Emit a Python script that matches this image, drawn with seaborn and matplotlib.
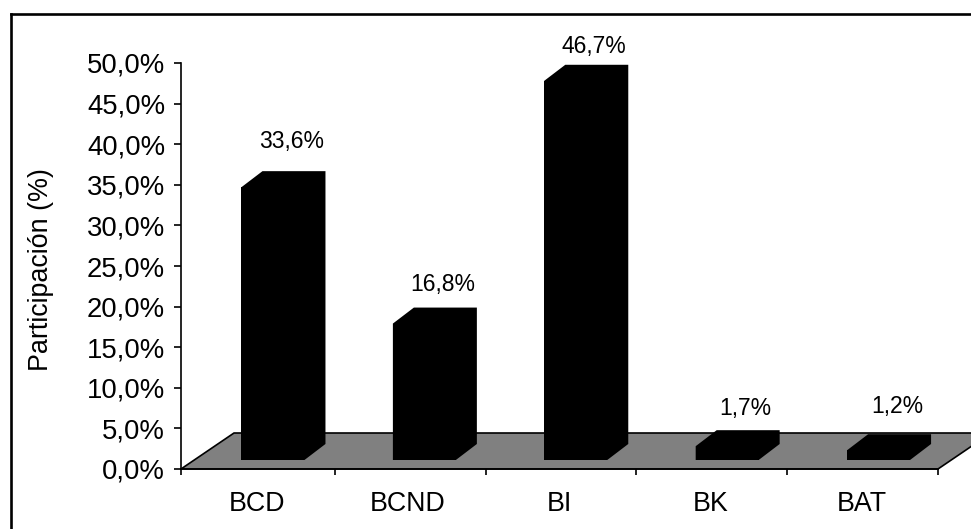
import matplotlib
matplotlib.use("Agg")
import matplotlib.pyplot as plt
import seaborn as sns
import pandas as pd
from matplotlib.lines import Line2D
from matplotlib.patches import Polygon
from matplotlib.ticker import FixedLocator, FuncFormatter

categories = ["BCD", "BCND", "BI", "BK", "BAT"]
values = [33.6, 16.8, 46.7, 1.7, 1.2]
y_ticks = [0, 5, 10, 15, 20, 25, 30, 35, 40, 45, 50]

W, H = 971, 529
AX_L, AX_R, AX_T, AX_B = 181, 938, 63, 469

sns.set_theme(style="white")
plt.rcParams["font.family"] = ["Liberation Sans", "DejaVu Sans"]

fig = plt.figure(figsize=(W / 100, H / 100), dpi=100, facecolor="white")
ax = fig.add_axes([AX_L / W, 1 - AX_B / H, (AX_R - AX_L) / W, (AX_B - AX_T) / H])
ax.patch.set_alpha(0)

df = pd.DataFrame({"banco": categories, "participacion": values})
BASE = 1.11  # bars stand slightly inside the floor
sns.barplot(data=df, x="banco", y="participacion", color="black", saturation=1,
            width=0.416, bottom=BASE, ax=ax, zorder=3, linewidth=0)
ax.set_xlim(-0.5, 4.5)
ax.set_ylim(0, 50)

px_x = 5 / (AX_R - AX_L)      # category units per pixel
px_y = 50 / (AX_B - AX_T)     # percent per pixel

# floor of the pseudo-3D plot
fx, fy = 53 * px_x, 36 * px_y
ax.add_patch(Polygon([(-0.5, 0), (4.5, 0), (4.5 + fx, fy), (-0.5 + fx, fy)],
                     closed=True, facecolor="#808080", edgecolor="black",
                     linewidth=1.2, clip_on=False, zorder=1))

# shift bars to the front of the floor and add their depth faces
dx, dy = 21 * px_x, 16 * px_y
shift = 0.091 + 2.5 * px_x
label_lift = [46, 39, 34, 38, 44]  # pixels above the bar's front edge
for bar, v, lift in zip(ax.patches[: len(values)], values, label_lift):
    bar.set_x(bar.get_x() + shift)
    x0, x1 = bar.get_x(), bar.get_x() + bar.get_width()
    y0, y1 = BASE, BASE + v
    ax.add_patch(Polygon([(x0, y0), (x0, y1), (x0 + dx, y1 + dy), (x1 + dx, y1 + dy),
                          (x1 + dx, y0 + dy), (x1, y0)],
                         closed=True, facecolor="black", edgecolor="none",
                         clip_on=False, zorder=3))
    ax.text(x0 + 50 * px_x, y1 + lift * px_y, f"{v:.1f}%".replace(".", ","),
            ha="center", va="center", fontsize=16.5, color="black", zorder=5)

# axes
ax.set_xlabel("")
ax.set_ylabel("Participación (%)", fontsize=19.4, color="black")
ax.yaxis.set_label_coords((54 - AX_L) / (AX_R - AX_L), (AX_B - 270) / (AX_B - AX_T))
ax.set_yticks(y_ticks)
ax.yaxis.set_major_formatter(FuncFormatter(lambda v, _: f"{v:.1f}%".replace(".", ",")))
ax.tick_params(axis="y", which="major", left=True, length=5.4, width=1.2,
               color="black", labelsize=19.8, labelcolor="black", pad=6)
# boundary ticks sit a little right of even division, except at the axis origin
edges = [-0.5] + [i - 0.5 + 2.5 * px_x * (5 - i) / 4 for i in range(1, len(categories) + 1)]
ax.xaxis.set_minor_locator(FixedLocator(edges))
ax.tick_params(axis="x", which="minor", bottom=True, length=4.5, width=1.2, color="black")
ax.tick_params(axis="x", which="major", bottom=False, length=0, labelsize=19.3,
               labelcolor="black", pad=16)
for side in ("top", "right"):
    ax.spines[side].set_visible(False)
for side in ("left", "bottom"):
    ax.spines[side].set_visible(True)
    ax.spines[side].set_color("black")
    ax.spines[side].set_linewidth(1.2)
    ax.spines[side].set_zorder(2)

# outer chart frame
fig.add_artist(Line2D([11 / W, 11 / W], [0, 1 - 14 / H], color="black", lw=1.9,
                      solid_capstyle="projecting"))
fig.add_artist(Line2D([11 / W, 1], [1 - 14 / H, 1 - 14 / H], color="black", lw=1.9,
                      solid_capstyle="projecting"))

fig.savefig("out.png", dpi=100, facecolor="white")
